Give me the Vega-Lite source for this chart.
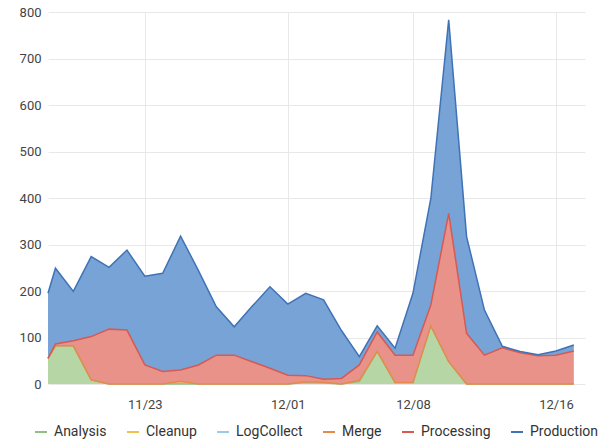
{
  "$schema": "https://vega.github.io/schema/vega-lite/v6.json",
  "width": 537,
  "height": 372,
  "autosize": {"type": "none"},
  "padding": {"left": 48, "top": 12, "right": 26, "bottom": 60},
  "background": "white",
  "config": {
    "view": {"stroke": null},
    "font": "Roboto",
    "axis": {"labelFont": "Roboto", "labelFontSize": 13, "labelColor": "#444444", "gridColor": "#e8e8e8", "domain": false, "ticks": false, "title": null},
    "legend": {"labelFont": "Roboto", "labelFontSize": 14, "labelColor": "#333333"}
  },
  "resolve": {"legend": {"fill": "independent", "stroke": "independent"}},
  "data": {
    "values": [
      {"date": "2023-11-17T14:00:00Z", "series": "Analysis", "value": 55}, {"date": "2023-11-17T14:00:00Z", "series": "Merge", "value": 0}, {"date": "2023-11-17T14:00:00Z", "series": "Processing", "value": 0}, {"date": "2023-11-17T14:00:00Z", "series": "Production", "value": 140},
      {"date": "2023-11-18T00:00:00Z", "series": "Analysis", "value": 82}, {"date": "2023-11-18T00:00:00Z", "series": "Merge", "value": 0}, {"date": "2023-11-18T00:00:00Z", "series": "Processing", "value": 4}, {"date": "2023-11-18T00:00:00Z", "series": "Production", "value": 163},
      {"date": "2023-11-19T00:00:00Z", "series": "Analysis", "value": 82}, {"date": "2023-11-19T00:00:00Z", "series": "Merge", "value": 0}, {"date": "2023-11-19T00:00:00Z", "series": "Processing", "value": 11}, {"date": "2023-11-19T00:00:00Z", "series": "Production", "value": 106},
      {"date": "2023-11-20T00:00:00Z", "series": "Analysis", "value": 9}, {"date": "2023-11-20T00:00:00Z", "series": "Merge", "value": 0}, {"date": "2023-11-20T00:00:00Z", "series": "Processing", "value": 93}, {"date": "2023-11-20T00:00:00Z", "series": "Production", "value": 172},
      {"date": "2023-11-21T00:00:00Z", "series": "Analysis", "value": 0}, {"date": "2023-11-21T00:00:00Z", "series": "Merge", "value": 0}, {"date": "2023-11-21T00:00:00Z", "series": "Processing", "value": 118}, {"date": "2023-11-21T00:00:00Z", "series": "Production", "value": 133},
      {"date": "2023-11-22T00:00:00Z", "series": "Analysis", "value": 0}, {"date": "2023-11-22T00:00:00Z", "series": "Merge", "value": 0}, {"date": "2023-11-22T00:00:00Z", "series": "Processing", "value": 116}, {"date": "2023-11-22T00:00:00Z", "series": "Production", "value": 172},
      {"date": "2023-11-23T00:00:00Z", "series": "Analysis", "value": 0}, {"date": "2023-11-23T00:00:00Z", "series": "Merge", "value": 0}, {"date": "2023-11-23T00:00:00Z", "series": "Processing", "value": 41}, {"date": "2023-11-23T00:00:00Z", "series": "Production", "value": 191},
      {"date": "2023-11-24T00:00:00Z", "series": "Analysis", "value": 0}, {"date": "2023-11-24T00:00:00Z", "series": "Merge", "value": 0}, {"date": "2023-11-24T00:00:00Z", "series": "Processing", "value": 27}, {"date": "2023-11-24T00:00:00Z", "series": "Production", "value": 211},
      {"date": "2023-11-25T00:00:00Z", "series": "Analysis", "value": 0}, {"date": "2023-11-25T00:00:00Z", "series": "Merge", "value": 6}, {"date": "2023-11-25T00:00:00Z", "series": "Processing", "value": 24}, {"date": "2023-11-25T00:00:00Z", "series": "Production", "value": 288},
      {"date": "2023-11-26T00:00:00Z", "series": "Analysis", "value": 0}, {"date": "2023-11-26T00:00:00Z", "series": "Merge", "value": 0}, {"date": "2023-11-26T00:00:00Z", "series": "Processing", "value": 41}, {"date": "2023-11-26T00:00:00Z", "series": "Production", "value": 203},
      {"date": "2023-11-27T00:00:00Z", "series": "Analysis", "value": 0}, {"date": "2023-11-27T00:00:00Z", "series": "Merge", "value": 0}, {"date": "2023-11-27T00:00:00Z", "series": "Processing", "value": 62}, {"date": "2023-11-27T00:00:00Z", "series": "Production", "value": 104},
      {"date": "2023-11-28T00:00:00Z", "series": "Analysis", "value": 0}, {"date": "2023-11-28T00:00:00Z", "series": "Merge", "value": 0}, {"date": "2023-11-28T00:00:00Z", "series": "Processing", "value": 62}, {"date": "2023-11-28T00:00:00Z", "series": "Production", "value": 61},
      {"date": "2023-11-29T00:00:00Z", "series": "Analysis", "value": 0}, {"date": "2023-11-29T00:00:00Z", "series": "Merge", "value": 0}, {"date": "2023-11-29T00:00:00Z", "series": "Processing", "value": 48}, {"date": "2023-11-29T00:00:00Z", "series": "Production", "value": 119},
      {"date": "2023-11-30T00:00:00Z", "series": "Analysis", "value": 0}, {"date": "2023-11-30T00:00:00Z", "series": "Merge", "value": 0}, {"date": "2023-11-30T00:00:00Z", "series": "Processing", "value": 34}, {"date": "2023-11-30T00:00:00Z", "series": "Production", "value": 175},
      {"date": "2023-12-01T00:00:00Z", "series": "Analysis", "value": 0}, {"date": "2023-12-01T00:00:00Z", "series": "Merge", "value": 0}, {"date": "2023-12-01T00:00:00Z", "series": "Processing", "value": 19}, {"date": "2023-12-01T00:00:00Z", "series": "Production", "value": 153},
      {"date": "2023-12-02T00:00:00Z", "series": "Analysis", "value": 3}, {"date": "2023-12-02T00:00:00Z", "series": "Merge", "value": 2}, {"date": "2023-12-02T00:00:00Z", "series": "Processing", "value": 13}, {"date": "2023-12-02T00:00:00Z", "series": "Production", "value": 177},
      {"date": "2023-12-03T00:00:00Z", "series": "Analysis", "value": 2}, {"date": "2023-12-03T00:00:00Z", "series": "Merge", "value": 2}, {"date": "2023-12-03T00:00:00Z", "series": "Processing", "value": 6}, {"date": "2023-12-03T00:00:00Z", "series": "Production", "value": 171},
      {"date": "2023-12-04T00:00:00Z", "series": "Analysis", "value": 0}, {"date": "2023-12-04T00:00:00Z", "series": "Merge", "value": 0}, {"date": "2023-12-04T00:00:00Z", "series": "Processing", "value": 12}, {"date": "2023-12-04T00:00:00Z", "series": "Production", "value": 103},
      {"date": "2023-12-05T00:00:00Z", "series": "Analysis", "value": 5}, {"date": "2023-12-05T00:00:00Z", "series": "Merge", "value": 3}, {"date": "2023-12-05T00:00:00Z", "series": "Processing", "value": 33}, {"date": "2023-12-05T00:00:00Z", "series": "Production", "value": 18},
      {"date": "2023-12-06T00:00:00Z", "series": "Analysis", "value": 70}, {"date": "2023-12-06T00:00:00Z", "series": "Merge", "value": 0}, {"date": "2023-12-06T00:00:00Z", "series": "Processing", "value": 42}, {"date": "2023-12-06T00:00:00Z", "series": "Production", "value": 13},
      {"date": "2023-12-07T00:00:00Z", "series": "Analysis", "value": 3}, {"date": "2023-12-07T00:00:00Z", "series": "Merge", "value": 0}, {"date": "2023-12-07T00:00:00Z", "series": "Processing", "value": 59}, {"date": "2023-12-07T00:00:00Z", "series": "Production", "value": 15},
      {"date": "2023-12-08T00:00:00Z", "series": "Analysis", "value": 3}, {"date": "2023-12-08T00:00:00Z", "series": "Merge", "value": 0}, {"date": "2023-12-08T00:00:00Z", "series": "Processing", "value": 59}, {"date": "2023-12-08T00:00:00Z", "series": "Production", "value": 133},
      {"date": "2023-12-09T00:00:00Z", "series": "Analysis", "value": 125}, {"date": "2023-12-09T00:00:00Z", "series": "Merge", "value": 0}, {"date": "2023-12-09T00:00:00Z", "series": "Processing", "value": 45}, {"date": "2023-12-09T00:00:00Z", "series": "Production", "value": 229},
      {"date": "2023-12-10T00:00:00Z", "series": "Analysis", "value": 48}, {"date": "2023-12-10T00:00:00Z", "series": "Merge", "value": 0}, {"date": "2023-12-10T00:00:00Z", "series": "Processing", "value": 319}, {"date": "2023-12-10T00:00:00Z", "series": "Production", "value": 416},
      {"date": "2023-12-11T00:00:00Z", "series": "Analysis", "value": 0}, {"date": "2023-12-11T00:00:00Z", "series": "Merge", "value": 0}, {"date": "2023-12-11T00:00:00Z", "series": "Processing", "value": 109}, {"date": "2023-12-11T00:00:00Z", "series": "Production", "value": 208},
      {"date": "2023-12-12T00:00:00Z", "series": "Analysis", "value": 0}, {"date": "2023-12-12T00:00:00Z", "series": "Merge", "value": 0}, {"date": "2023-12-12T00:00:00Z", "series": "Processing", "value": 62}, {"date": "2023-12-12T00:00:00Z", "series": "Production", "value": 97},
      {"date": "2023-12-13T00:00:00Z", "series": "Analysis", "value": 0}, {"date": "2023-12-13T00:00:00Z", "series": "Merge", "value": 0}, {"date": "2023-12-13T00:00:00Z", "series": "Processing", "value": 78}, {"date": "2023-12-13T00:00:00Z", "series": "Production", "value": 3},
      {"date": "2023-12-14T00:00:00Z", "series": "Analysis", "value": 0}, {"date": "2023-12-14T00:00:00Z", "series": "Merge", "value": 0}, {"date": "2023-12-14T00:00:00Z", "series": "Processing", "value": 67}, {"date": "2023-12-14T00:00:00Z", "series": "Production", "value": 3},
      {"date": "2023-12-15T00:00:00Z", "series": "Analysis", "value": 0}, {"date": "2023-12-15T00:00:00Z", "series": "Merge", "value": 0}, {"date": "2023-12-15T00:00:00Z", "series": "Processing", "value": 61}, {"date": "2023-12-15T00:00:00Z", "series": "Production", "value": 2},
      {"date": "2023-12-16T00:00:00Z", "series": "Analysis", "value": 0}, {"date": "2023-12-16T00:00:00Z", "series": "Merge", "value": 0}, {"date": "2023-12-16T00:00:00Z", "series": "Processing", "value": 62}, {"date": "2023-12-16T00:00:00Z", "series": "Production", "value": 9},
      {"date": "2023-12-17T00:00:00Z", "series": "Analysis", "value": 0}, {"date": "2023-12-17T00:00:00Z", "series": "Merge", "value": 0}, {"date": "2023-12-17T00:00:00Z", "series": "Processing", "value": 71}, {"date": "2023-12-17T00:00:00Z", "series": "Production", "value": 13}
    ]
  },
  "encoding": {
    "x": {
      "field": "date", "type": "temporal",
      "scale": {"type": "utc", "domain": [{"year": 2023, "month": 11, "date": 17, "hours": 14, "utc": true}, {"year": 2023, "month": 12, "date": 17, "hours": 15, "utc": true}]},
      "axis": {
        "labelExpr": "utcFormat(datum.value, '%m/%d')", "labelPadding": 14, "grid": true,
        "values": [{"year": 2023, "month": 11, "date": 23, "utc": true}, {"year": 2023, "month": 12, "date": 1, "utc": true}, {"year": 2023, "month": 12, "date": 8, "utc": true}, {"year": 2023, "month": 12, "date": 16, "utc": true}]
      }
    },
    "y": {
      "field": "value", "type": "quantitative", "stack": "zero",
      "scale": {"domain": [0, 800], "nice": false},
      "axis": {"values": [0, 100, 200, 300, 400, 500, 600, 700, 800], "labelPadding": 7}
    },
    "order": {"field": "series", "sort": "ascending"}
  },
  "layer": [
    {
      "mark": {"type": "area", "opacity": 1},
      "encoding": {
        "fill": {
          "field": "series", "type": "nominal", "legend": null,
          "scale": {"domain": ["Analysis", "Cleanup", "LogCollect", "Merge", "Processing", "Production"], "range": ["#b6d6a6", "#f5d98a", "#c5def0", "#f2b48a", "#e8928a", "#78a3d6"]}
        }
      }
    },
    {
      "mark": {"type": "line", "strokeWidth": 1.5},
      "encoding": {
        "stroke": {
          "field": "series", "type": "nominal",
          "scale": {"domain": ["Analysis", "Cleanup", "LogCollect", "Merge", "Processing", "Production"], "range": ["#93bf82", "#f0c050", "#9cc9e6", "#e8894a", "#d65a52", "#3f72b6"]},
          "legend": {"orient": "none", "legendX": -14, "legendY": 413, "direction": "horizontal", "title": null, "symbolType": "stroke", "symbolSize": 144, "symbolStrokeWidth": 2, "labelOffset": 6, "columnPadding": 16}
        }
      }
    }
  ]
}
